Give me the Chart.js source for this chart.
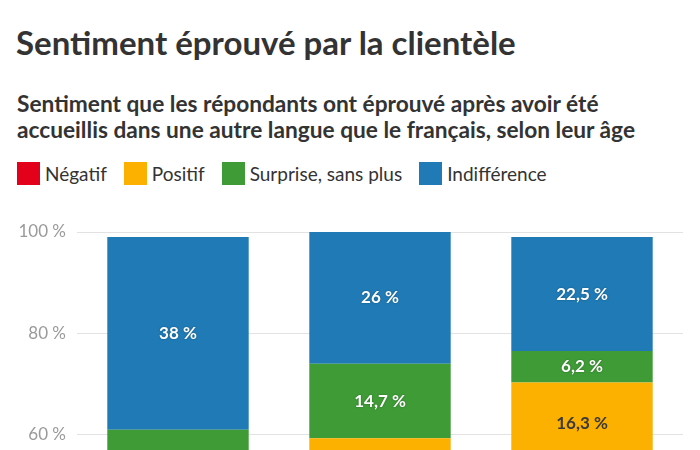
<!DOCTYPE html>
<html lang="fr">
<head>
<meta charset="utf-8">
<title>Sentiment éprouvé par la clientèle</title>
<script src="https://cdn.jsdelivr.net/npm/chart.js@4"></script>
<style>
  html, body { margin: 0; padding: 0; background: #fff; overflow: hidden; }
  body { width: 700px; height: 450px; position: relative; font-family: Lato, "Noto Sans", sans-serif; color: #333; }
  h1 { position: absolute; left: 16px; top: 22px; margin: 0; font-size: 33px; font-weight: 700; line-height: 40px; white-space: nowrap; }
  h2 { position: absolute; left: 17px; top: 91px; margin: 0; font-size: 22.7px; font-weight: 700; line-height: 26px; white-space: nowrap; }
  #legend { position: absolute; left: 17px; top: 162px; display: flex; font-size: 19px; line-height: 23px; }
  #legend span.item { display: flex; align-items: center; margin-right: 17px; }
  #legend span.box { width: 23px; height: 23px; margin-right: 5px; }
  #wrap { position: absolute; left: 0; top: 200px; width: 700px; height: 560px; }
</style>
</head>
<body>
<h1>Sentiment éprouvé par la clientèle</h1>
<h2>Sentiment que les répondants ont éprouvé après avoir été<br>accueillis dans une autre langue que le français, selon leur âge</h2>
<div id="legend"></div>
<div id="wrap"><canvas id="chart"></canvas></div>
<script>
// categories (age groups, below the visible area)
const ageGroups = ['18-34 ans', '35-54 ans', '55 ans et plus'];

// series, stacked bottom to top
const seriesNames = ['Négatif', 'Positif', 'Surprise, sans plus', 'Indifférence'];
const seriesColors = ['#e2001a', '#fcb000', '#3e9b36', '#1f7ab5'];
const negatif = [38, 47.3, 54];
const positif = [9, 12, 16.3];
const surprise = [14, 14.7, 6.2];
const indifference = [38, 26, 22.5];

const yTicks = [0, 20, 40, 60, 80, 100];

// legend built from the series
const legendBox = document.getElementById('legend');
seriesNames.forEach((name, i) => {
    const item = document.createElement('span');
    item.className = 'item';
    item.innerHTML = `<span class="box" style="background:${seriesColors[i]}"></span>${name}`;
    legendBox.appendChild(item);
});

function fmt(v) {
    return String(v).replace('.', ',') + ' %';
}

// value labels centred in each segment
const segmentLabels = {
    id: 'segmentLabels',
    afterDatasetsDraw(chart) {
        const ctx = chart.ctx;
        ctx.save();
        ctx.font = 'bold 17px Lato, "Noto Sans", sans-serif';
        ctx.textAlign = 'center';
        ctx.textBaseline = 'middle';
        chart.data.datasets.forEach((ds, di) => {
            const meta = chart.getDatasetMeta(di);
            meta.data.forEach((bar, i) => {
                const y = (bar.y + bar.base) / 2;
                if (di === 1) {
                    ctx.shadowColor = 'transparent';
                    ctx.fillStyle = '#3a3a3a';
                } else {
                    ctx.shadowColor = 'rgba(0,0,0,0.35)';
                    ctx.shadowBlur = 2;
                    ctx.fillStyle = '#ffffff';
                }
                ctx.fillText(fmt(ds.data[i]), bar.x, y);
            });
        });
        ctx.restore();
    }
};

const allSeries = [negatif, positif, surprise, indifference];

new Chart(document.getElementById('chart'), {
    type: 'bar',
    data: {
        labels: ageGroups,
        datasets: allSeries.map((vals, i) => ({
            label: seriesNames[i],
            data: vals,
            backgroundColor: seriesColors[i],
            borderWidth: 0,
            categoryPercentage: 1,
            barPercentage: 0.7
        }))
    },
    options: {
        responsive: true,
        maintainAspectRatio: false,
        animation: false,
        layout: { padding: { top: 32, left: 17, right: 17, bottom: 0 } },
        plugins: { legend: { display: false }, tooltip: { enabled: false } },
        scales: {
            x: {
                stacked: true,
                display: false
            },
            y: {
                stacked: true,
                min: 0,
                max: 100,
                afterBuildTicks(scale) {
                    scale.ticks = yTicks.map(v => ({ value: v }));
                },
                afterFit(scale) {
                    scale.width = 60;
                },
                border: { display: false },
                grid: { color: '#e2e2e2', drawTicks: false },
                ticks: {
                    padding: 11,
                    color: '#9a9a9a',
                    font: { family: 'Lato, "Noto Sans", sans-serif', size: 17 },
                    callback: v => v + ' %'
                }
            }
        }
    },
    plugins: [segmentLabels]
});
</script>
</body>
</html>
